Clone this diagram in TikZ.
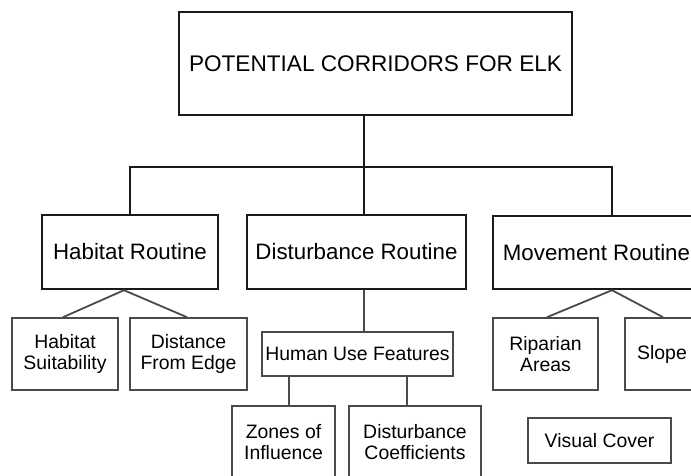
\documentclass[tikz,border=0pt]{standalone}
\usepackage{fontspec}
\setmainfont{Liberation Sans}
\usepackage{xcolor}
\definecolor{boxline}{HTML}{1A1A1A}
\definecolor{subline}{HTML}{4A4A4A}

\begin{document}
\begin{tikzpicture}[x=1pt,y=-1pt,
  routine/.style={draw=boxline,line width=2.4pt,minimum height=74pt,inner sep=0pt,align=center,font=\fontsize{22.3}{24}\selectfont},
  leaf/.style={draw=subline,line width=1.6pt,minimum height=72pt,inner sep=0pt,align=center,font=\fontsize{19.4}{21.5}\selectfont},
  trunk/.style={boxline,line width=2.4pt},
  branch/.style={subline,line width=1.8pt}
]
\path[use as bounding box] (0,0) rectangle (691,476);
\clip (0,0) rectangle (691,476);

\node[routine,minimum width=393pt,minimum height=103pt,font=\fontsize{22.6}{24}\selectfont] (top) at (375.5,63.5) {POTENTIAL CORRIDORS FOR ELK};
\node[routine,minimum width=176pt] (hab) at (130,252) {Habitat Routine};
\node[routine,minimum width=219pt] (dist) at (356.5,252) {Disturbance Routine};
\node[routine,minimum width=207pt,minimum height=73pt] (mov) at (596.5,252.5) {Movement Routine};

\node[leaf,minimum width=106pt] (suit) at (65,354) {Habitat\\Suitability};
\node[leaf,minimum width=117pt] (edge) at (188.5,354) {Distance\\From Edge};
\node[leaf,minimum width=191pt,minimum height=44pt] (human) at (357.5,354) {Human Use Features};
\node[leaf,minimum width=103pt] (zones) at (283.5,442) {Zones of\\Influence};
\node[leaf,minimum width=132pt] (coef) at (415,442) {Disturbance\\Coefficients};
\node[leaf,minimum width=105pt] (ripar) at (545.5,354) {Riparian\\Areas};
\node[leaf,minimum width=74pt] (slope) at (662,354) {Slope};
\node[leaf,minimum width=143pt,minimum height=45pt] (cover) at (599.5,440.5) {Visual Cover};

\coordinate (jd) at (364,167);
\coordinate (jm) at (612,167);

\draw[trunk] (top.south -| jd) -- (jd);
\draw[trunk] (hab.north) |- (jm) -- (mov.north -| jm);
\draw[trunk] (jd) -- (dist.north -| jd);

\draw[branch] ([xshift=-6pt]hab.south) -- ([xshift=-2pt]suit.north);
\draw[branch] ([xshift=-6pt]hab.south) -- ([xshift=-1.5pt]edge.north);
\draw[branch] (dist.south -| jd) -- (human.north -| jd);
\draw[branch] ([xshift=5.5pt]zones.north |- human.south) -- ([xshift=5.5pt]zones.north);
\draw[branch] ([xshift=-8pt]coef.north |- human.south) -- ([xshift=-8pt]coef.north);
\draw[branch] (mov.south -| jm) -- ([xshift=1.5pt]ripar.north);
\draw[branch] (mov.south -| jm) -- ([xshift=1pt]slope.north);
\end{tikzpicture}
\end{document}
